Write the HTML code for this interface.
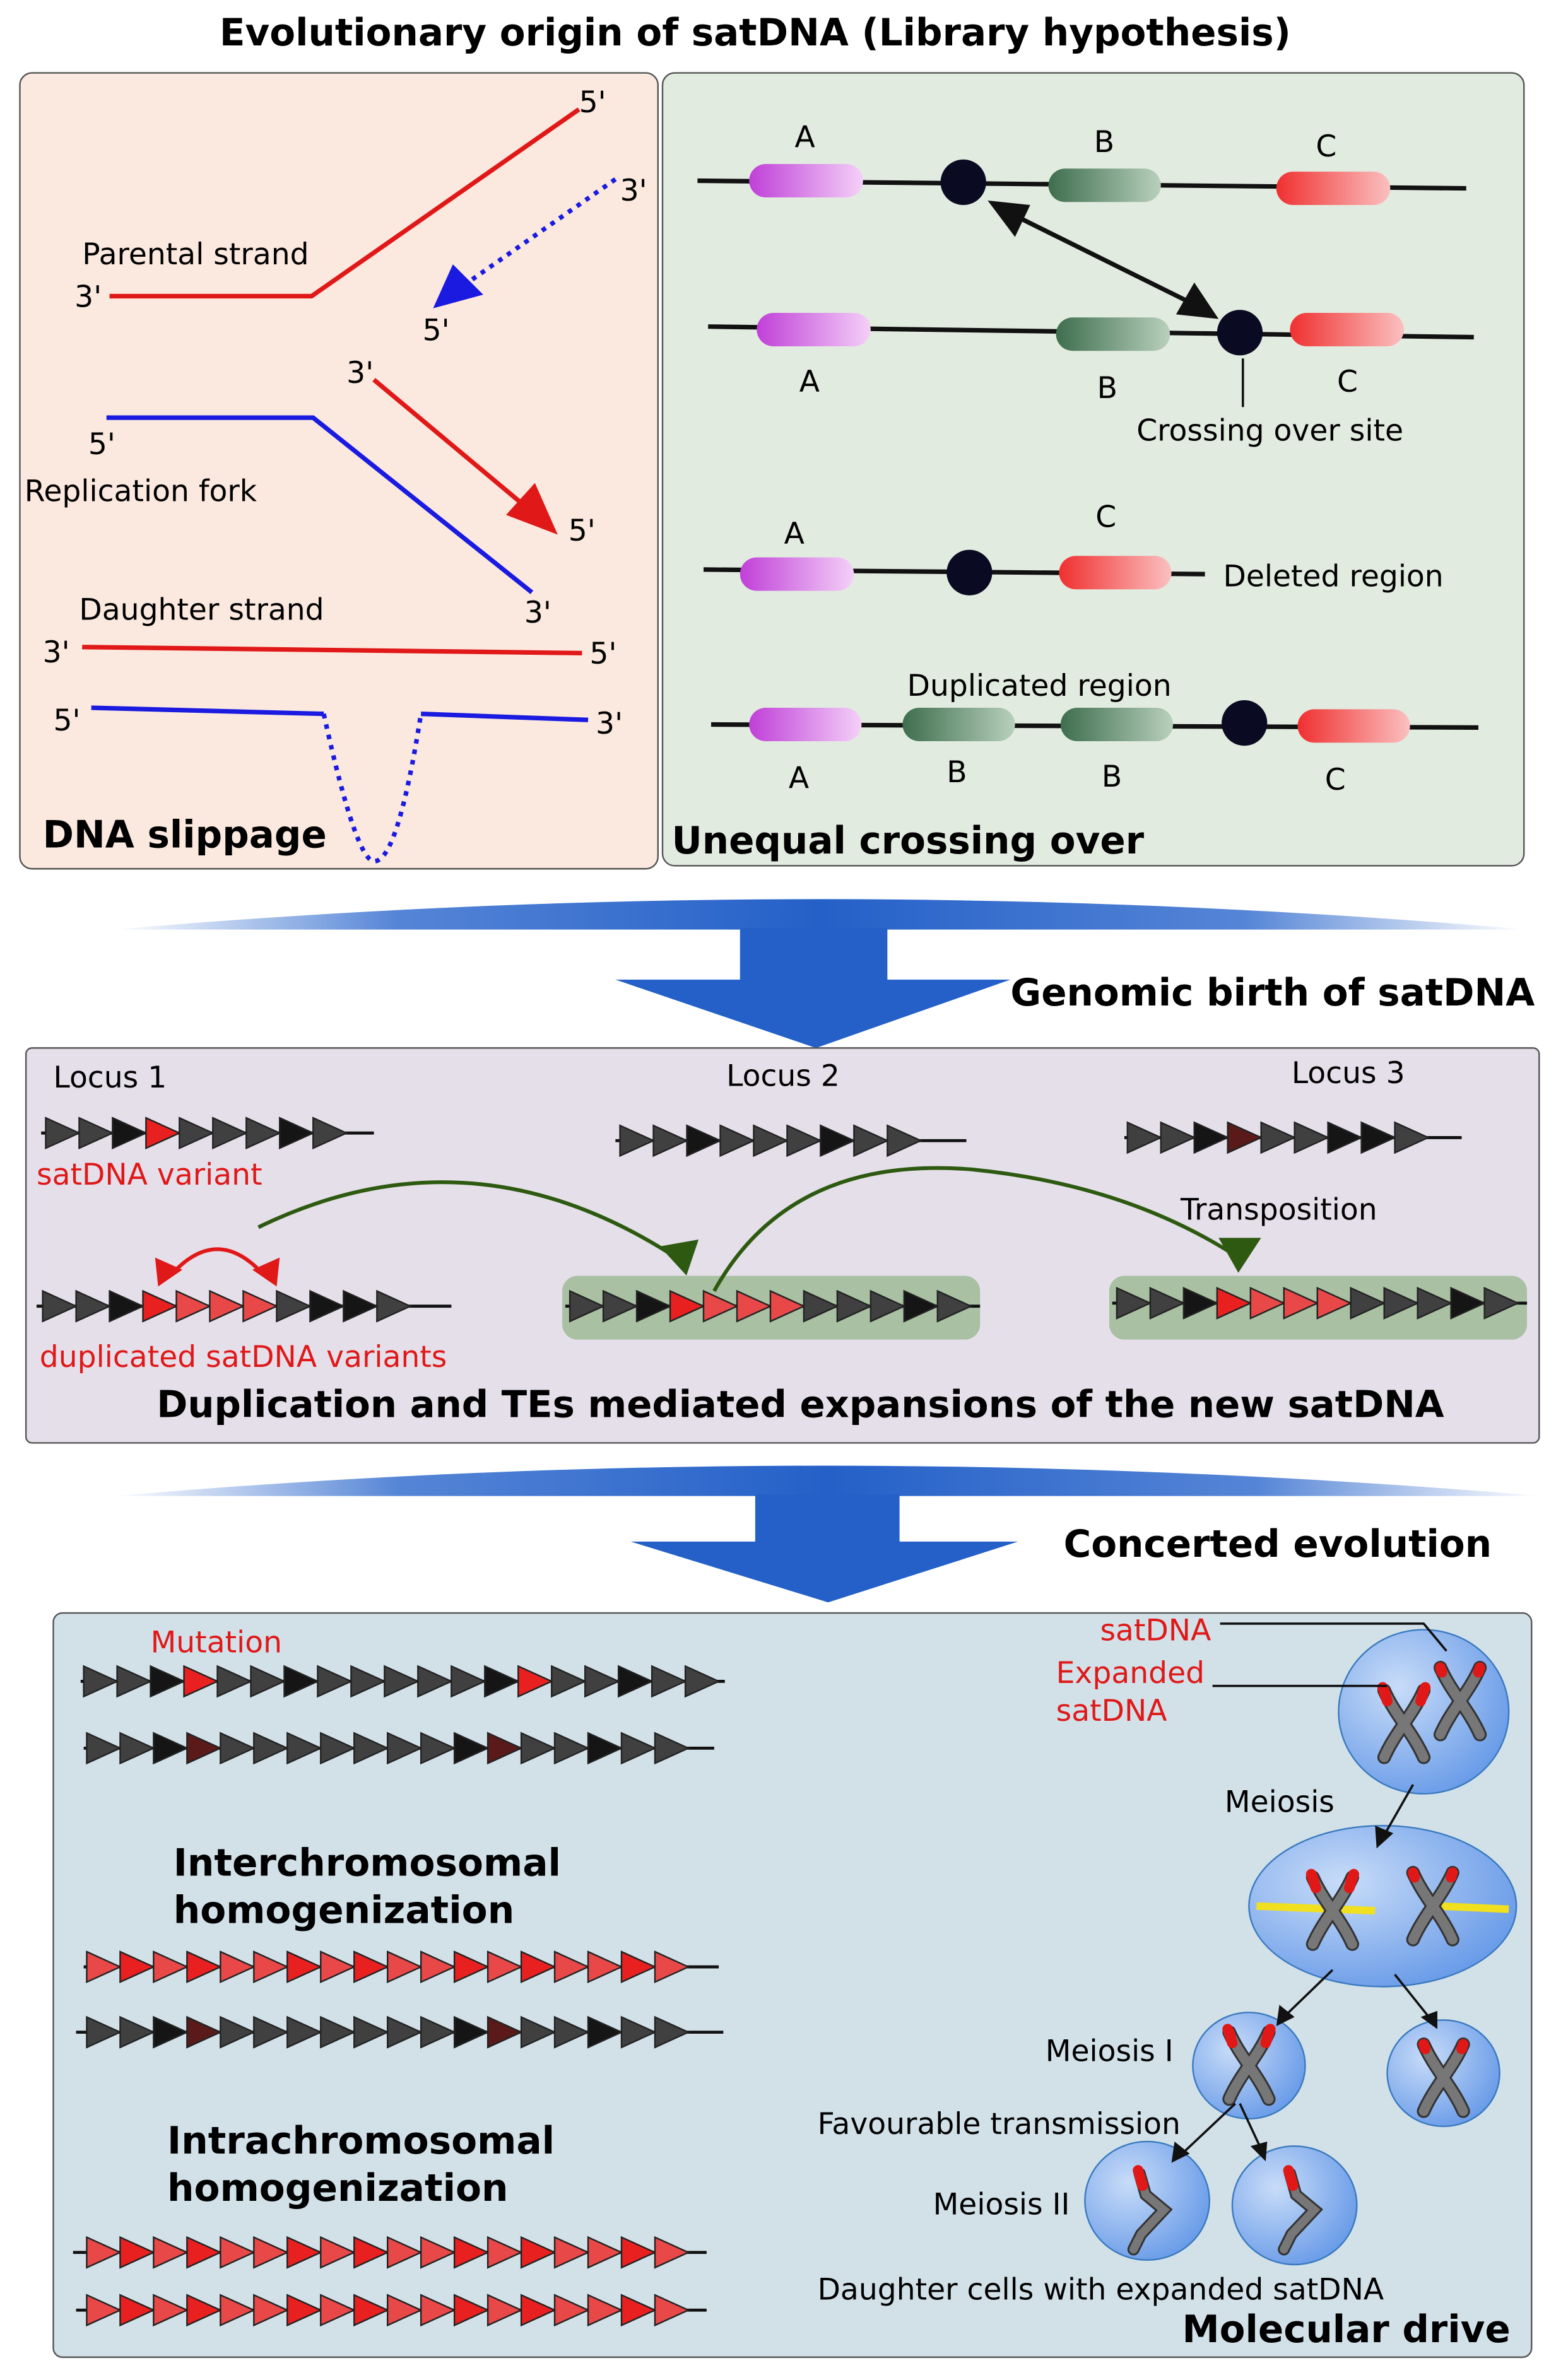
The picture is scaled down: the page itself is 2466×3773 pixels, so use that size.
<!DOCTYPE html>
<html><head><meta charset="utf-8">
<style>
html,body{margin:0;padding:0;background:#fff;}
svg{display:block;}
text{font-family:"DejaVu Sans","Liberation Sans",sans-serif;}
</style></head>
<body>
<svg id="s" width="2466" height="3773" viewBox="0 0 1024 1567" xmlns="http://www.w3.org/2000/svg">
<defs>
<linearGradient id="band" x1="0" x2="1" y1="0" y2="0">
<stop offset="0" stop-color="#2a66cc" stop-opacity="0"/>
<stop offset="0.2" stop-color="#2a66cc" stop-opacity="0.8"/>
<stop offset="0.5" stop-color="#2460c8"/>
<stop offset="0.8" stop-color="#2a66cc" stop-opacity="0.8"/>
<stop offset="1" stop-color="#2a66cc" stop-opacity="0"/>
</linearGradient>
<linearGradient id="pink" x1="0" x2="1"><stop offset="0" stop-color="#c040d8"/><stop offset="1" stop-color="#f4d0f8"/></linearGradient>
<linearGradient id="green" x1="0" x2="1"><stop offset="0" stop-color="#3e6e4e"/><stop offset="1" stop-color="#b8d0bc"/></linearGradient>
<linearGradient id="red" x1="0" x2="1"><stop offset="0" stop-color="#f03030"/><stop offset="1" stop-color="#fbc0c0"/></linearGradient>
<radialGradient id="cell" cx="0.35" cy="0.35" r="0.8"><stop offset="0" stop-color="#c8dcf8"/><stop offset="1" stop-color="#5d93e6"/></radialGradient>
<g id="X">
<path d="M-13,-22 C-6,-6 6,6 13,22 M13,-22 C6,-6 -6,6 -13,22" stroke="#333" stroke-width="9" fill="none" stroke-linecap="round"/>
<path d="M-13,-22 C-6,-6 6,6 13,22 M13,-22 C6,-6 -6,6 -13,22" stroke="#777" stroke-width="6.5" fill="none" stroke-linecap="round"/>
<path d="M-13,-22 l1,3 M13,-22 l-1,3" stroke="#e01818" stroke-width="7" stroke-linecap="round"/>
</g>
<g id="XE">
<use href="#X"/>
<path d="M-14,-24 l3,9 M14,-24 l-3,9" stroke="#e01818" stroke-width="7" stroke-linecap="round"/>
</g>
</defs>

<text x="497" y="30" text-anchor="middle" font-size="24.7" font-weight="bold">Evolutionary origin of satDNA (Library hypothesis)</text>

<!-- Left panel -->
<rect x="13" y="48" width="420" height="524" rx="8" fill="#fbe9df" stroke="#555" stroke-width="1"/>
<polyline points="72,195 205,195 381,72" fill="none" stroke="#e01818" stroke-width="3"/>
<line x1="405" y1="118" x2="305" y2="188" stroke="#1a1ae0" stroke-width="3" stroke-dasharray="3,4"/>
<polygon points="285,203 298,174 318,194" fill="#1a1ae0"/>
<line x1="246" y1="250" x2="350" y2="337" stroke="#e01818" stroke-width="3"/>
<polygon points="367,352 333,339 352,318" fill="#e01818"/>
<polyline points="70,275 206,275 350,390" fill="none" stroke="#1a1ae0" stroke-width="3"/>
<line x1="54" y1="426" x2="383" y2="430" stroke="#e01818" stroke-width="3"/>
<polyline points="60,466 213,470" fill="none" stroke="#1a1ae0" stroke-width="3"/>
<polyline points="277,470 387,474" fill="none" stroke="#1a1ae0" stroke-width="3"/>
<path d="M213,470 Q235,570 247,567 Q262,565 277,470" fill="none" stroke="#1a1ae0" stroke-width="3" stroke-dasharray="3,4"/>
<g font-size="19.6">
<text x="381" y="74">5'</text>
<text x="408" y="132">3'</text>
<text x="278" y="224">5'</text>
<text x="54" y="174">Parental strand</text>
<text x="49" y="202">3'</text>
<text x="228" y="252">3'</text>
<text x="374" y="356">5'</text>
<text x="58" y="299">5'</text>
<text x="16" y="330">Replication fork</text>
<text x="345" y="410">3'</text>
<text x="52" y="408">Daughter strand</text>
<text x="28" y="436">3'</text>
<text x="388" y="437">5'</text>
<text x="35" y="481">5'</text>
<text x="392" y="483">3'</text>
</g>
<text x="28" y="558" font-size="24.7" font-weight="bold">DNA slippage</text>

<!-- Right panel -->
<rect x="436" y="48" width="567" height="522" rx="8" fill="#e2ebe0" stroke="#555" stroke-width="1"/>
<g stroke="#111" stroke-width="3">
<line x1="459" y1="119" x2="965" y2="124"/>
<line x1="466" y1="215" x2="970" y2="222"/>
<line x1="463" y1="375" x2="793" y2="378"/>
<line x1="468" y1="477" x2="973" y2="479"/>
</g>
<g stroke="none">
<rect x="493" y="108" width="75" height="22" rx="11" fill="url(#pink)"/>
<rect x="690" y="111" width="74" height="22" rx="11" fill="url(#green)"/>
<rect x="840" y="113" width="75" height="22" rx="11" fill="url(#red)"/>
<rect x="498" y="206" width="75" height="22" rx="11" fill="url(#pink)"/>
<rect x="695" y="209" width="75" height="22" rx="11" fill="url(#green)"/>
<rect x="849" y="206" width="75" height="22" rx="11" fill="url(#red)"/>
<rect x="487" y="367" width="75" height="22" rx="11" fill="url(#pink)"/>
<rect x="697" y="366" width="74" height="22" rx="11" fill="url(#red)"/>
<rect x="493" y="466" width="74" height="22" rx="11" fill="url(#pink)"/>
<rect x="594" y="466" width="74" height="22" rx="11" fill="url(#green)"/>
<rect x="698" y="466" width="74" height="22" rx="11" fill="url(#green)"/>
<rect x="854" y="467" width="74" height="22" rx="11" fill="url(#red)"/>
</g>
<g fill="#0a0a22">
<circle cx="634" cy="120" r="15"/>
<circle cx="816" cy="219" r="15"/>
<circle cx="638" cy="377" r="15"/>
<circle cx="819" cy="476" r="15"/>
</g>
<line x1="668" y1="142" x2="785" y2="200" stroke="#111" stroke-width="3"/>
<polygon points="650,132 678,135 668,156" fill="#111"/>
<polygon points="802,210 774,207 786,186" fill="#111"/>
<line x1="818" y1="236" x2="818" y2="268" stroke="#111" stroke-width="1.5"/>
<g font-size="19.6">
<text x="523" y="97">A</text><text x="720" y="100">B</text><text x="866" y="103">C</text>
<text x="526" y="258">A</text><text x="722" y="262">B</text><text x="880" y="258">C</text>
<text x="748" y="290">Crossing over site</text>
<text x="516" y="358">A</text><text x="721" y="347">C</text>
<text x="805" y="386">Deleted region</text>
<text x="597" y="458">Duplicated region</text>
<text x="519" y="519">A</text><text x="623" y="515">B</text><text x="725" y="518">B</text><text x="872" y="520">C</text>
</g>
<text x="442" y="562" font-size="24.7" font-weight="bold">Unequal crossing over</text>

<!-- Arrow 1 -->
<path d="M75,612 Q540,572 1005,612 Z" fill="url(#band)"/>
<rect x="487" y="611" width="97" height="34" fill="#2460c8"/>
<polygon points="405,645 665,645 537,690" fill="#2460c8"/>
<text x="665" y="662" font-size="24.7" font-weight="bold">Genomic birth of satDNA</text>

<!-- Middle panel -->
<rect x="17" y="690" width="996" height="260" rx="4" fill="#e5dfea" stroke="#555" stroke-width="1"/>
<rect x="370" y="840" width="275" height="42" rx="10" fill="#a9c0a3"/>
<rect x="730" y="840" width="275" height="42" rx="10" fill="#a9c0a3"/>
<g font-size="19.6">
<text x="35" y="716">Locus 1</text>
<text x="478" y="715">Locus 2</text>
<text x="850" y="713">Locus 3</text>
<text x="777" y="803">Transposition</text>
</g>
<text x="24" y="780" font-size="19.6" fill="#e01818">satDNA variant</text>
<text x="26" y="900" font-size="19.6" fill="#e01818">duplicated satDNA variants</text>
<g id="tris"></g>
<path d="M170,808 Q310,740 445,828" fill="none" stroke="#2d5a10" stroke-width="2.5"/>
<polygon points="450,840 436,818 462,818" fill="#2d5a10" transform="rotate(-10 450 830)"/>
<path d="M470,850 Q520,760 640,770 Q740,780 812,826" fill="none" stroke="#2d5a10" stroke-width="2.5"/>
<polygon points="815,838 802,815 830,815" fill="#2d5a10"/>
<path d="M112,840 Q143,805 174,840" fill="none" stroke="#e01818" stroke-width="2.5"/>
<polygon points="104,847 102,828 120,836" fill="#e01818"/>
<polygon points="182,847 184,828 166,836" fill="#e01818"/>
<text x="103" y="933" font-size="24.6" font-weight="bold">Duplication and TEs mediated expansions of the new satDNA</text>

<!-- Arrow 2 -->
<path d="M75,985 Q540,945 1015,985 Z" fill="url(#band)"/>
<rect x="497" y="984" width="95" height="32" fill="#2460c8"/>
<polygon points="415,1015 670,1015 545,1055" fill="#2460c8"/>
<text x="700" y="1025" font-size="24.7" font-weight="bold">Concerted evolution</text>

<!-- Bottom panel -->
<rect x="35" y="1062" width="973" height="490" rx="6" fill="#d2e1e8" stroke="#555" stroke-width="1"/>
<g id="tris2"></g>
<text x="99" y="1088" font-size="19.6" fill="#e01818">Mutation</text>
<text x="114" y="1235" font-size="24.8" font-weight="bold">Interchromosomal</text>
<text x="114" y="1266" font-size="24.8" font-weight="bold">homogenization</text>
<text x="110" y="1418" font-size="24.8" font-weight="bold">Intrachromosomal</text>
<text x="110" y="1449" font-size="24.8" font-weight="bold">homogenization</text>

<!-- cells -->
<g stroke="#3a7ac0" stroke-width="1">
<ellipse cx="937" cy="1127" rx="56" ry="54" fill="url(#cell)"/>
<ellipse cx="910" cy="1255" rx="88" ry="53" fill="url(#cell)"/>
<ellipse cx="822" cy="1360" rx="37" ry="35" fill="url(#cell)"/>
<ellipse cx="950" cy="1365" rx="37" ry="35" fill="url(#cell)"/>
<ellipse cx="755" cy="1449" rx="41" ry="39" fill="url(#cell)"/>
<ellipse cx="852" cy="1452" rx="41" ry="39" fill="url(#cell)"/>
</g>
<use href="#XE" x="924" y="1135"/>
<use href="#X" x="961" y="1120"/>
<line x1="827" y1="1255" x2="905" y2="1258" stroke="#f0e020" stroke-width="5"/>
<line x1="947" y1="1255" x2="993" y2="1257" stroke="#f0e020" stroke-width="5"/>
<use href="#XE" x="877" y="1258"/>
<use href="#X" x="943" y="1255"/>
<use href="#XE" x="822" y="1360"/>
<use href="#X" x="950" y="1368"/>
<path d="M750,1431 l4,14 l12,10 l-15,16 l-5,10" stroke="#333" stroke-width="8" fill="none" stroke-linecap="round"/>
<path d="M750,1431 l4,14 l12,10 l-15,16 l-5,10" stroke="#777" stroke-width="5.5" fill="none" stroke-linecap="round"/>
<path d="M749,1429 l3,10" stroke="#e01818" stroke-width="7" stroke-linecap="round"/>
<path d="M849,1431 l4,14 l12,10 l-15,16 l-5,10" stroke="#333" stroke-width="8" fill="none" stroke-linecap="round"/>
<path d="M849,1431 l4,14 l12,10 l-15,16 l-5,10" stroke="#777" stroke-width="5.5" fill="none" stroke-linecap="round"/>
<path d="M848,1429 l3,10" stroke="#e01818" stroke-width="7" stroke-linecap="round"/>
<g stroke="#111" stroke-width="1.5" fill="none">
<polyline points="803,1069 937,1069 952,1087"/>
<polyline points="798,1110 913,1110"/>
<line x1="930" y1="1175" x2="910" y2="1210"/>
<line x1="877" y1="1297" x2="846" y2="1327"/>
<line x1="918" y1="1300" x2="942" y2="1330"/>
<line x1="813" y1="1385" x2="778" y2="1418"/>
<line x1="816" y1="1385" x2="830" y2="1415"/>
</g>
<g fill="#111">
<polygon points="906,1217 905,1202 917,1207"/>
<polygon points="840,1334 842,1320 852,1328"/>
<polygon points="946,1336 935,1328 946,1324"/>
<polygon points="771,1424 773,1410 783,1418"/>
<polygon points="833,1423 823,1413 834,1410"/>
</g>
<text x="724" y="1080" font-size="19.6" fill="#e01818">satDNA</text>
<text x="695" y="1108" font-size="19.6" fill="#e01818">Expanded</text>
<text x="695" y="1133" font-size="19.6" fill="#e01818">satDNA</text>
<g font-size="19.6">
<text x="806" y="1193">Meiosis</text>
<text x="688" y="1357">Meiosis I</text>
<text x="538" y="1405">Favourable transmission</text>
<text x="614" y="1458">Meiosis II</text>
<text x="538" y="1514">Daughter cells with expanded satDNA</text>
</g>
<text x="778" y="1542" font-size="24.7" font-weight="bold">Molecular drive</text>
</svg>
<script>
(function(){
var NS="http://www.w3.org/2000/svg";
var col={d:"#404040",k:"#151515",r:"#e82020",m:"#5a1a1a",l:"#e84848"};
function row(g,x1,x2,y,x0,s){
 var L=document.createElementNS(NS,"line");
 L.setAttribute("x1",x1);L.setAttribute("x2",x2);L.setAttribute("y1",y);L.setAttribute("y2",y);
 L.setAttribute("stroke","#111");L.setAttribute("stroke-width","2");g.appendChild(L);
 for(var i=0;i<s.length;i++){
  var x=x0+i*22,p=document.createElementNS(NS,"polygon");
  p.setAttribute("points",x+","+(y-10)+" "+(x+22)+","+y+" "+x+","+(y+10));
  p.setAttribute("fill",col[s[i]]);p.setAttribute("stroke","#222");p.setAttribute("stroke-width","1");
  g.appendChild(p);
 }
}
var g=document.getElementById("tris"),g2=document.getElementById("tris2");
row(g,27,246,746,30,"ddkrdddkd");
row(g,405,636,751,408,"ddkdddkdd");
row(g,740,962,749,742,"ddkmddkkd");
row(g,24,297,860,28,"ddkrllldkkd");
row(g,372,645,860,375,"ddkrllldddkd");
row(g,732,1005,858,735,"ddkrllldddkd");
row(g2,53,477,1107,55,"ddkrddkdddddkrddkdd");
row(g2,55,470,1151,57,"ddkmdddddddkmddkdd");
row(g2,55,473,1295,57,"lrlrllrlrllrlrllrl");
row(g2,50,476,1338,57,"ddkmdddddddkmddkdd");
row(g2,48,465,1483,57,"lrlrllrlrllrlrllrl");
row(g2,50,465,1521,57,"lrlrllrlrllrlrllrl");
})();
</script>
</body></html>
